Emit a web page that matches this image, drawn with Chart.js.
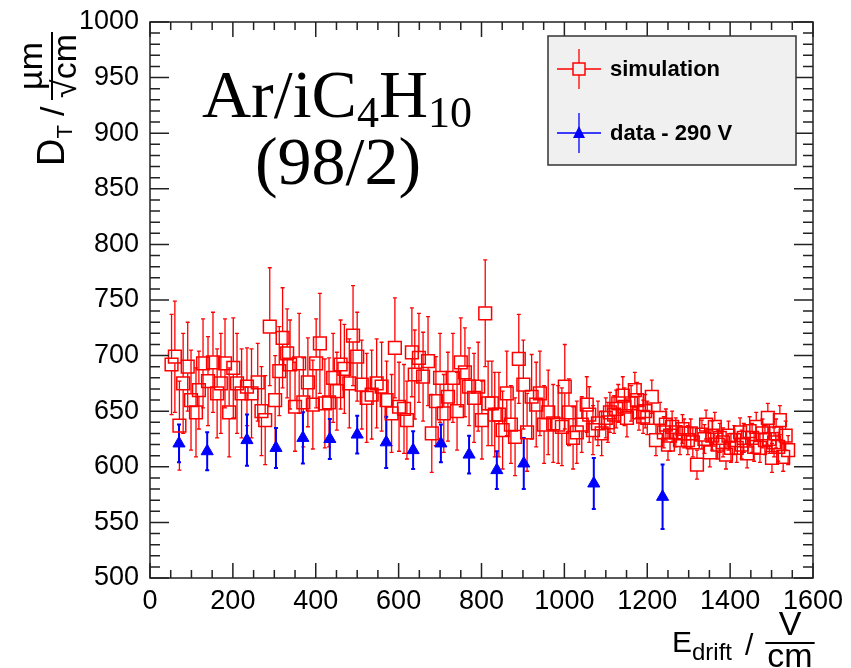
<!DOCTYPE html>
<html>
<head>
<meta charset="utf-8">
<title>D_T vs E_drift</title>
<script src="https://cdn.jsdelivr.net/npm/chart.js@4.4.1/dist/chart.umd.min.js"></script>
<style>
  html, body { margin: 0; padding: 0; background: #fff; }
  #wrap { width: 851px; height: 668px; }
</style>
</head>
<body>
<div id="wrap"><canvas id="chart" width="851" height="668"></canvas></div>
<script>
// simulation: drift field (V/cm), transverse diffusion (um/sqrt(cm)), error
const simX = [
  52, 60, 71, 80, 91, 99, 111, 118, 128, 140, 152, 162, 171, 181, 191, 201, 210, 221, 234, 245,
  260, 269, 278, 289, 302, 312, 320, 331, 338, 350, 360, 370, 381, 393, 401, 410, 422, 432, 442, 451,
  460, 469, 481, 490, 500, 511, 523, 535, 547, 559, 571, 583, 591, 601, 613, 620, 632, 639, 649, 659,
  671, 680, 690, 700, 709, 719, 731, 741, 750, 760, 770, 782, 792, 801, 809, 816, 825, 832, 842, 851,
  861, 871, 881, 890, 901, 910, 921, 932, 941, 951, 961, 973, 985, 994, 1001, 1011, 1021, 1030, 1042, 1054,
  1060, 1069, 1081, 1090, 1100, 1105, 1110, 1120, 1125, 1130, 1141, 1145, 1151, 1161, 1170, 1175, 1180, 1190, 1195, 1200,
  1211, 1221, 1231, 1240, 1245, 1250, 1255, 1260, 1269, 1279, 1285, 1289, 1298, 1305, 1310, 1320, 1332, 1338, 1342, 1351,
  1357, 1363, 1370, 1375, 1383, 1390, 1396, 1402, 1410, 1416, 1424, 1428, 1433, 1441, 1447, 1453, 1458, 1463, 1472, 1478,
  1484, 1491, 1495, 1501, 1506, 1511, 1516, 1520, 1528, 1534, 1540
];
const simY = [
  692, 699, 637, 675, 690, 660, 649, 669, 693, 677, 694, 666, 675, 693, 649, 689, 675, 666, 672, 666,
  676, 650, 642, 726, 660, 686, 716, 702, 692, 654, 693, 658, 676, 656, 693, 711, 657, 658, 680, 668,
  692, 688, 675, 718, 699, 674, 662, 665, 675, 672, 660, 648, 707, 654, 652, 642, 703, 683, 698, 681,
  695, 630, 659, 680, 648, 663, 680, 650, 694, 685, 672, 662, 672, 642, 738, 657, 657, 647, 647, 633,
  666, 638, 627, 697, 674, 631, 663, 656, 666, 638, 649, 639, 638, 636, 672, 649, 626, 631, 638, 656,
  647, 633, 639, 630, 644, 640, 649, 647, 652, 657, 664, 654, 644, 657, 669, 660, 649, 645, 650, 644,
  663, 624, 644, 631, 638, 620, 628, 636, 631, 624, 634, 630, 624, 630, 622, 602, 629, 625, 638, 613,
  628, 636, 620, 626, 622, 611, 628, 617, 624, 617, 631, 620, 626, 612, 632, 626, 618, 636, 617, 630,
  624, 644, 625, 608, 622, 630, 618, 642, 609, 628, 615
];
const simErr = [
  45, 50, 40, 45, 40, 45, 40, 35, 40, 40, 45, 40, 45, 40, 40, 45, 45, 40, 35, 40,
  35, 40, 40, 53, 40, 40, 45, 40, 40, 40, 45, 40, 40, 40, 40, 45, 40, 40, 40, 35,
  40, 40, 40, 45, 40, 40, 40, 40, 40, 40, 35, 35, 45, 40, 40, 35, 40, 40, 40, 40,
  40, 35, 40, 40, 35, 40, 40, 35, 40, 40, 35, 40, 40, 35, 48, 38, 38, 38, 38, 35,
  38, 35, 35, 40, 40, 35, 38, 38, 38, 35, 38, 35, 35, 35, 38, 30, 28, 28, 25, 25,
  25, 22, 20, 20, 18, 18, 18, 17, 17, 17, 17, 17, 17, 16, 16, 16, 16, 15, 15, 15,
  15, 14, 14, 14, 14, 14, 14, 14, 13, 13, 13, 13, 13, 13, 13, 13, 13, 13, 13, 13,
  13, 13, 13, 13, 13, 13, 13, 13, 13, 13, 13, 13, 13, 13, 13, 13, 13, 13, 13, 13,
  13, 13, 13, 13, 13, 13, 13, 13, 13, 13, 13
];

// measurement at 290 V
const dataX = [70, 138, 234, 304, 369, 434, 500, 570, 635, 702, 770, 837, 902, 1071, 1237];
const dataY = [621, 614, 624, 617, 626, 625, 629, 622, 615, 621, 611, 597, 603, 585, 573];
const dataErr = [17, 17, 23, 18, 23, 18, 17, 23, 17, 17, 17, 17, 23, 23, 29];

const xTickValues = [0, 200, 400, 600, 800, 1000, 1200, 1400, 1600];
const yTickValues = [500, 550, 600, 650, 700, 750, 800, 850, 900, 950, 1000];
const legendLabels = ["simulation", "data - 290 V"];

const SANS = "'Liberation Sans', Arial, sans-serif";
const SERIF = "'Liberation Serif', 'Times New Roman', serif";

function toPoints(xs, ys, errs) {
  return xs.map((x, i) => ({ x, y: ys[i], err: errs[i] }));
}

const errorBars = {
  id: "errorBars",
  beforeDatasetsDraw(chart) {
    const { ctx, scales: { x, y } } = chart;
    ctx.save();
    chart.data.datasets.forEach((ds) => {
      ctx.strokeStyle = ds.borderColor;
      ctx.lineWidth = ds.errWidth;
      ds.data.forEach((p) => {
        const px = x.getPixelForValue(p.x);
        const mid = y.getPixelForValue(p.y);
        const top = y.getPixelForValue(p.y + p.err);
        const bot = y.getPixelForValue(p.y - p.err);
        ctx.beginPath();
        ctx.moveTo(px, top);
        ctx.lineTo(px, mid - ds.errGap);
        ctx.moveTo(px, mid + ds.errGap);
        ctx.lineTo(px, bot);
        ctx.moveTo(px - 2, top);
        ctx.lineTo(px + 2, top);
        ctx.moveTo(px - 2, bot);
        ctx.lineTo(px + 2, bot);
        ctx.stroke();
      });
    });
    ctx.restore();
  },
};

// ROOT style frame with inward ticks on all four sides
const frame = {
  id: "frame",
  afterDatasetsDraw(chart) {
    const { ctx, chartArea: a, scales: { x, y } } = chart;
    ctx.save();
    ctx.strokeStyle = "#222";
    ctx.lineWidth = 1.5;
    ctx.strokeRect(a.left, a.top, a.right - a.left, a.bottom - a.top);
    ctx.beginPath();
    for (let v = x.min; v <= x.max; v += 50) {
      const px = x.getPixelForValue(v);
      const len = v % 200 === 0 ? 15 : 8;
      ctx.moveTo(px, a.bottom);
      ctx.lineTo(px, a.bottom - len);
      ctx.moveTo(px, a.top);
      ctx.lineTo(px, a.top + len);
    }
    for (let v = y.min; v <= y.max; v += 10) {
      const py = y.getPixelForValue(v);
      const len = v % 50 === 0 ? 19 : 10;
      ctx.moveTo(a.left, py);
      ctx.lineTo(a.left + len, py);
      ctx.moveTo(a.right, py);
      ctx.lineTo(a.right - len, py);
    }
    ctx.stroke();
    ctx.restore();
  },
};

function drawParts(ctx, parts, x, y) {
  let cx = x;
  parts.forEach((p) => {
    ctx.font = p.font;
    ctx.fillText(p.text, cx, y + (p.dy || 0));
    cx += ctx.measureText(p.text).width;
  });
  return cx;
}

function drawFraction(ctx, num, den, cx, lineY, font, gapUp, gapDown) {
  ctx.font = font;
  ctx.textAlign = "center";
  ctx.fillText(num, cx, lineY - gapUp);
  ctx.fillText(den, cx, lineY + gapDown);
  const w = Math.max(ctx.measureText(num).width, ctx.measureText(den).width) + 4;
  ctx.fillRect(cx - w / 2, lineY - 1, w, 2);
  ctx.textAlign = "left";
}

const decorations = {
  id: "decorations",
  afterDraw(chart) {
    const { ctx } = chart;
    ctx.save();
    ctx.fillStyle = "#000";
    ctx.textBaseline = "alphabetic";

    // x title: E_drift / (V/cm)
    drawParts(ctx, [
      { text: "E", font: `30px ${SANS}` },
      { text: "drift", font: `24px ${SANS}`, dy: 8 },
    ], 672, 652);
    ctx.font = `30px ${SANS}`;
    ctx.fillText("/", 745, 655);
    drawFraction(ctx, "V", "cm", 790, 643, `34px ${SANS}`, 8, 24);

    // y title, rotated: D_T / (um/sqrt(cm))
    ctx.save();
    ctx.translate(64, 166);
    ctx.rotate(-Math.PI / 2);
    drawParts(ctx, [
      { text: "D", font: `38px ${SANS}` },
      { text: "T", font: `22px ${SANS}`, dy: 8 },
    ], 0, 0);
    ctx.font = `34px ${SANS}`;
    ctx.fillText("/", 50, 0);
    drawFraction(ctx, "\u00b5m", "\u221acm", 100, -12, `34px ${SANS}`, 10, 24);
    ctx.restore();

    // gas mixture annotation
    drawParts(ctx, [
      { text: "Ar/iC", font: `68px ${SERIF}` },
      { text: "4", font: `44px ${SERIF}`, dy: 10 },
      { text: "H", font: `68px ${SERIF}` },
      { text: "10", font: `44px ${SERIF}`, dy: 10 },
    ], 202, 117);
    ctx.font = `68px ${SERIF}`;
    ctx.textAlign = "center";
    ctx.fillText("(98/2)", 338, 184);
    ctx.textAlign = "left";

    // legend box
    ctx.fillStyle = "#f0f0f0";
    ctx.fillRect(548, 36, 248, 129);
    ctx.strokeStyle = "#333";
    ctx.lineWidth = 1.5;
    ctx.strokeRect(548, 36, 248, 129);
    const rows = [
      { y: 69, color: "#ff0000", style: "rect" },
      { y: 133, color: "#0000ff", style: "triangle" },
    ];
    rows.forEach((r, i) => {
      ctx.strokeStyle = r.color;
      ctx.lineWidth = 1.3;
      ctx.beginPath();
      ctx.moveTo(557, r.y);
      ctx.lineTo(601, r.y);
      ctx.moveTo(579, r.y - 20);
      ctx.lineTo(579, r.y + 20);
      ctx.stroke();
      if (r.style === "rect") {
        ctx.fillStyle = "#f0f0f0";
        ctx.fillRect(573, r.y - 6, 12, 12);
        ctx.lineWidth = 1.5;
        ctx.strokeRect(573, r.y - 6, 12, 12);
      } else {
        ctx.fillStyle = r.color;
        ctx.beginPath();
        ctx.moveTo(579, r.y - 7);
        ctx.lineTo(585, r.y + 5);
        ctx.lineTo(573, r.y + 5);
        ctx.closePath();
        ctx.fill();
      }
      ctx.fillStyle = "#000";
      ctx.font = `bold 22px ${SANS}`;
      ctx.textBaseline = "middle";
      ctx.fillText(legendLabels[i], 610, r.y + 1);
      ctx.textBaseline = "alphabetic";
    });
    ctx.restore();
  },
};

new Chart(document.getElementById("chart"), {
  type: "scatter",
  data: {
    datasets: [
      {
        label: legendLabels[0],
        data: toPoints(simX, simY, simErr),
        pointStyle: "rect",
        pointRadius: 9,
        borderColor: "#ff0000",
        backgroundColor: "rgba(0,0,0,0)",
        borderWidth: 1.5,
        errWidth: 1.3,
        errGap: 6.5,
      },
      {
        label: legendLabels[1],
        data: toPoints(dataX, dataY, dataErr),
        pointStyle: "triangle",
        pointRadius: 7,
        borderColor: "#0000ff",
        backgroundColor: "#0000ff",
        borderWidth: 1,
        errWidth: 2,
        errGap: 0,
      },
    ],
  },
  options: {
    responsive: false,
    animation: false,
    layout: { padding: { left: 0, right: 38, top: 22, bottom: 0 } },
    plugins: { legend: { display: false }, tooltip: { enabled: false } },
    scales: {
      x: {
        type: "linear",
        min: 0,
        max: 1600,
        grid: { display: false },
        border: { display: false },
        afterBuildTicks: (s) => { s.ticks = xTickValues.map((value) => ({ value })); },
        afterFit: (s) => { s.height = 90; },
        ticks: {
          color: "#000",
          padding: -1,
          maxRotation: 0,
          font: { family: SANS, size: 27 },
          callback: (v) => String(v),
        },
      },
      y: {
        type: "linear",
        min: 500,
        max: 1000,
        grid: { display: false },
        border: { display: false },
        afterBuildTicks: (s) => { s.ticks = yTickValues.map((value) => ({ value })); },
        afterFit: (s) => { s.width = 150; },
        ticks: {
          color: "#000",
          padding: 3,
          font: { family: SANS, size: 27 },
          callback: (v) => String(v),
        },
      },
    },
  },
  plugins: [errorBars, frame, decorations],
});
</script>
</body>
</html>
